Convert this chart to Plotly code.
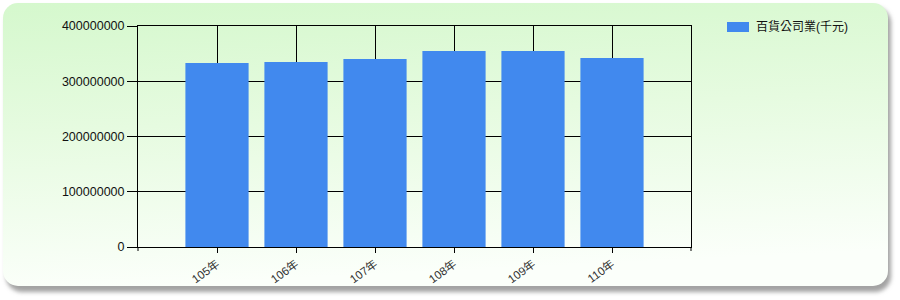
import base64
import plotly.graph_objects as go

categories = ["105年", "106年", "107年", "108年", "109年", "110年"]
values = [333000000, 334800000, 340300000, 354800000, 354900000, 342000000]
series_name = "百貨公司業(千元)"
y_ticks = [0, 100000000, 200000000, 300000000, 400000000]

W, H = 900, 300
L, R, T, B = 138, 209, 26, 53
PW, PH = W - L - R, H - T - B


def px(x):
    return (x - L) / PW


def py(y):
    return (H - B - y) / PH


svg = f'''<svg xmlns="http://www.w3.org/2000/svg" width="{W}" height="{H}" viewBox="0 0 {W} {H}">
<defs>
<linearGradient id="g" x1="0" y1="0" x2="0.15" y2="1">
<stop offset="0" stop-color="#d5f8cd"/>
<stop offset="0.45" stop-color="#e6fbe0"/>
<stop offset="1" stop-color="#fbfffa"/>
</linearGradient>
<filter id="s" x="-5%" y="-5%" width="110%" height="115%"><feGaussianBlur stdDeviation="2.2"/></filter>
</defs>
<rect x="6" y="7" width="885" height="285" rx="16" fill="#a3a3a3" filter="url(#s)"/>
<rect x="3" y="3" width="885" height="283" rx="15" fill="url(#g)"/>
</svg>'''
src = "data:image/svg+xml;base64," + base64.b64encode(svg.encode()).decode()

fig = go.Figure()
fig.add_trace(go.Bar(
    x=categories, y=values, name=series_name,
    marker=dict(color="#4189ee", line=dict(width=0)),
    width=0.8, showlegend=False,
))

fig.update_layout(
    width=W, height=H,
    margin=dict(l=L, r=R, t=T, b=B, pad=0),
    paper_bgcolor="white",
    plot_bgcolor="white",
    font=dict(family="Liberation Sans, Arial, Noto Sans CJK TC", size=12, color="#000"),
    images=[dict(source=src, xref="paper", yref="paper",
                 x=-L / PW, y=1 + T / PH, sizex=W / PW, sizey=H / PH,
                 xanchor="left", yanchor="top", sizing="stretch", layer="below")],
    xaxis=dict(
        type="category", range=[-1, 6],
        showgrid=True, gridcolor="#000", gridwidth=1,
        showline=True, linecolor="#000", linewidth=1, mirror=True,
        ticks="outside", ticklen=5, tickcolor="#000",
        tickangle=-36,
        tickfont=dict(size=11.5, color="#333", family="Liberation Sans, Arial, Noto Sans CJK TC"),
        fixedrange=True,
    ),
    yaxis=dict(
        range=[0, 400000000], tickvals=y_ticks, tickformat="d",
        showgrid=True, gridcolor="#000", gridwidth=1,
        showline=True, linecolor="#000", linewidth=1, mirror=True,
        zeroline=False,
        ticks="outside", ticklen=10, tickcolor="#000",
        tickfont=dict(size=12.5, color="#111"),
        fixedrange=True,
    ),
    shapes=[
        dict(type="line", xref="paper", yref="paper", x0=0, x1=0, y0=0, y1=py(H - B + 4),
             line=dict(color="#000", width=1)),
        dict(type="line", xref="paper", yref="paper", x0=1, x1=1, y0=0, y1=py(H - B + 4),
             line=dict(color="#000", width=1)),
        dict(type="rect", xref="paper", yref="paper", x0=px(727), x1=px(749),
             y0=py(32), y1=py(22), fillcolor="#4189ee", line=dict(width=0)),
    ],
    annotations=[
        dict(text=series_name, xref="paper", yref="paper", x=px(754), y=py(27),
             xanchor="left", yanchor="middle", showarrow=False,
             font=dict(size=12, color="#111", family="Liberation Sans, Arial, Noto Sans CJK TC")),
    ],
)

fig.write_html("out.html")
